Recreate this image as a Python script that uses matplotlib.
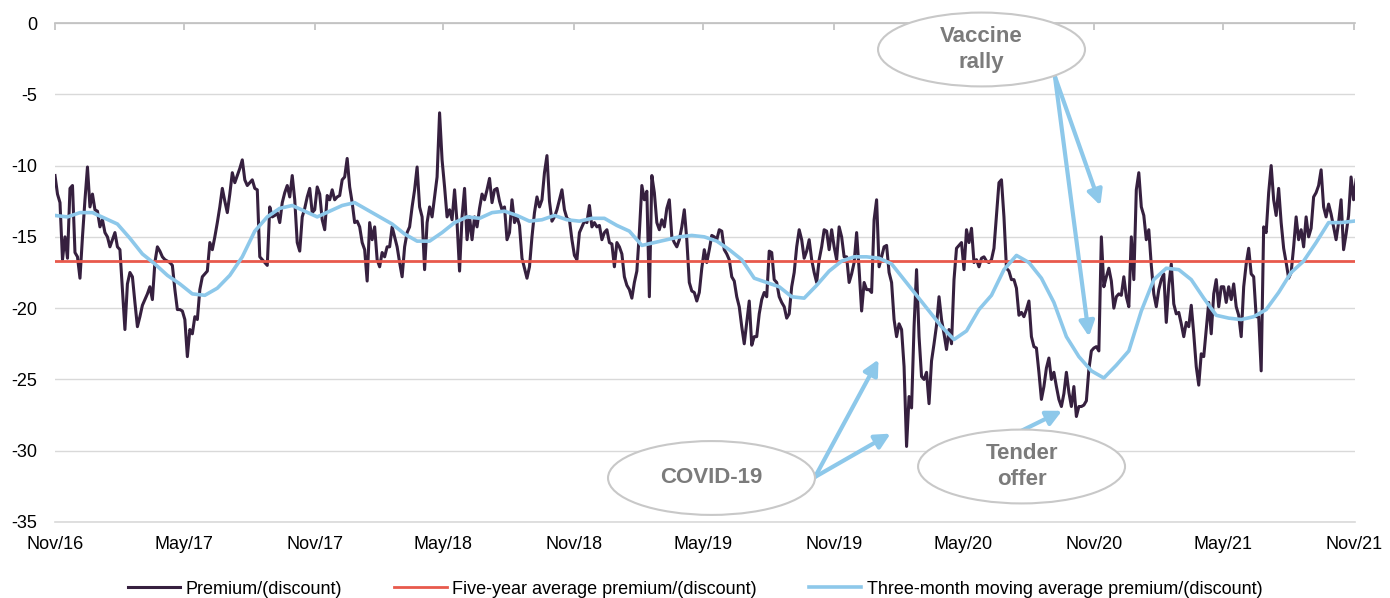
import numpy as np
import pandas as pd
import matplotlib
matplotlib.use("Agg")
import matplotlib.pyplot as plt
import matplotlib.dates as mdates
from matplotlib.patches import Ellipse

plt.rcParams['font.family'] = ['Liberation Sans', 'DejaVu Sans']
plt.rcParams['axes.unicode_minus'] = False

# premium/(discount), one reading roughly every 3.5 days from Nov/16
start = pd.Timestamp("2016-11-01")
end = pd.Timestamp("2021-11-01")

premium = [
    -10.7, -12.0, -12.6, -16.6, -15.0, -16.5, -11.6, -11.4, -16.1, -16.4,
    -17.9, -15.0, -12.4, -10.1, -12.9, -12.0, -13.1, -13.2, -14.3, -13.8,
    -14.7, -15.0, -15.7, -15.2, -14.7, -15.7, -15.9, -18.7, -21.5, -18.3,
    -17.5, -17.8, -19.6, -21.3, -20.6, -19.8, -19.4, -19.0, -18.5, -19.4,
    -16.8, -15.7, -16.0, -16.4, -16.6, -16.7, -16.8, -17.0, -18.7, -20.1,
    -20.1, -20.2, -20.8, -23.4, -21.5, -21.8, -20.6, -20.8, -18.7, -17.8,
    -17.6, -17.4, -15.4, -15.9, -15.0, -14.0, -12.9, -11.6, -12.5, -13.3,
    -12.0, -10.5, -11.2, -10.7, -10.2, -9.6, -11.0, -11.4, -11.2, -11.0,
    -11.6, -11.7, -16.4, -16.6, -16.8, -17.0, -12.9, -13.6, -13.5, -13.3,
    -14.0, -12.6, -11.9, -11.4, -12.2, -10.7, -12.4, -15.4, -16.0, -13.6,
    -13.0, -12.2, -11.6, -13.3, -13.1, -11.5, -12.0,
    # 2018
    -13.8, -14.5, -12.1, -12.4, -11.7, -12.4, -12.2, -12.1, -11.0, -10.8,
    -9.5, -11.5, -12.6, -14.0, -13.9, -14.3, -15.4, -15.9, -18.1, -14.0,
    -15.2, -14.3, -16.6, -17.1, -16.1, -16.4, -15.7, -15.7, -14.3, -15.0,
    -15.7, -16.8, -17.8, -15.7, -14.7, -14.3, -12.9, -11.7, -10.1, -12.9,
    -13.6, -17.3, -14.0, -12.9, -13.6, -12.2, -10.8, -6.3, -9.6, -11.5,
    -13.6, -13.1, -13.8, -11.7, -14.0, -17.4, -13.6, -11.6, -15.2, -13.6,
    -15.2, -13.6, -14.3, -13.0, -12.0, -12.4, -11.7, -10.9, -12.6, -11.7,
    -11.6, -12.5, -13.1, -12.9, -15.2, -14.7, -12.4, -14.0, -13.6, -14.2,
    -16.5, -17.2, -17.9, -17.1, -15.0, -13.3, -12.2, -12.9, -12.4, -10.5,
    -9.3, -12.5, -13.9, -13.6, -13.1, -12.4, -11.7, -13.1, -13.7, -13.8,
    -15.2, -16.3, -16.6, -14.7,
    # 2019
    -14.3, -13.9, -14.0, -12.8, -14.3, -14.0, -14.3, -14.2, -15.2, -14.7,
    -14.5, -15.4, -15.5, -17.1, -15.4, -15.7, -16.2, -17.8, -18.4, -18.7,
    -19.3, -18.2, -17.4, -14.7, -11.4, -12.4, -11.8, -19.2, -10.7, -11.9,
    -14.0, -14.5, -13.8, -14.3, -13.0, -12.4, -15.0, -15.4, -15.7, -15.2,
    -14.3, -13.1, -15.2, -18.2, -18.8, -18.9, -19.5, -18.9, -17.2, -15.9,
    -16.8, -15.9, -14.9, -15.0, -15.2, -14.5, -14.6, -15.9, -16.2, -16.6,
    -17.8, -18.1, -19.2, -19.9, -21.3, -22.5, -21.0, -19.5, -22.6, -22.0,
    -22.0, -20.4, -19.4, -18.9, -19.2, -16.0, -16.1, -18.0, -18.2, -19.2,
    -19.6, -19.9, -20.7, -20.4, -18.5, -17.5, -15.7, -14.5, -15.2, -16.5,
    -16.0, -15.2, -16.6, -17.5, -18.2, -16.6, -15.7, -14.5, -14.6, -15.9,
    -14.5, -15.7, -16.6, -14.3,
    # 2020
    -15.0, -16.4, -16.4, -18.2, -17.6, -16.8, -14.7, -17.3, -20.2, -18.2,
    -18.7, -18.7, -18.9, -13.8, -12.4, -17.1, -16.4, -15.7, -15.6, -17.5,
    -18.2, -20.8, -22.0, -21.1, -21.5, -24.1, -29.7, -26.2, -27.0, -21.3,
    -17.3, -22.0, -24.8, -25.0, -24.5, -26.7, -23.7, -22.5, -21.2, -19.2,
    -20.8, -21.8, -22.9, -21.5, -22.5, -18.0, -15.8, -15.6, -15.4, -17.3,
    -14.5, -15.4, -14.4, -16.8, -16.6, -17.1, -16.5, -16.4, -16.7, -16.8,
    -16.6, -15.8, -13.5, -11.2, -11.0, -13.6, -17.2, -17.4, -18.0, -18.0,
    -18.6, -20.5, -20.3, -20.6, -20.1, -19.5, -22.0, -22.7, -22.8, -24.5,
    -26.4, -25.5, -24.2, -23.5, -25.0, -24.5, -25.5, -26.4, -26.9, -26.0,
    -24.5, -25.9, -26.9, -25.5, -27.6, -26.9, -26.9, -26.8, -26.5, -24.3,
    -23.0, -22.8, -22.7, -23.0,
    # 2021
    -15.0, -18.5, -17.8, -17.2, -18.1, -20.0, -19.2, -19.0, -19.1, -17.8,
    -19.2, -19.9, -15.0, -18.0, -11.7, -10.5, -12.9, -13.5, -15.2, -14.5,
    -17.0, -19.0, -19.9, -18.7, -18.0, -17.6, -21.0, -18.4, -16.9, -19.7,
    -20.4, -20.3, -21.1, -22.0, -21.0, -21.3, -19.8, -21.8, -24.1, -25.4,
    -23.2, -23.4, -21.5, -19.6, -21.8, -19.0, -18.0, -19.9, -18.5, -18.5,
    -19.6, -18.5, -19.4, -18.3, -19.9, -20.5, -22.0, -18.5, -16.9, -15.8,
    -17.6, -17.8, -20.6, -20.6, -24.4, -14.3, -14.7, -11.9, -10.0, -12.4,
    -13.5, -11.6, -14.0, -15.8, -16.8, -17.9, -17.5, -15.7, -13.6, -15.2,
    -14.5, -15.7, -13.6, -15.0, -14.4, -12.2, -11.9, -11.4, -10.3, -12.9,
    -13.6, -12.7, -13.4, -14.3, -15.2, -14.0, -12.4, -15.9, -14.8, -13.5,
    -10.8, -12.4, -11.0,
]

# three-month moving average, read every 5th premium reading
ma3m = [
    -13.5, -13.6, -13.3, -13.3, -13.7, -14.1, -15.1, -16.2, -16.9, -17.7,
    -18.3, -19.0, -19.1, -18.6, -17.7, -16.4, -14.6, -13.6, -13.0, -12.8,
    -13.2, -13.6, -13.2, -12.8, -12.6, -13.1, -13.6, -14.1, -14.8, -15.3,
    -15.3, -14.7, -14.0, -13.6, -13.7, -13.3, -13.2, -13.5, -13.9, -13.8,
    -13.5, -13.8, -13.9, -13.7, -13.7, -14.2, -14.6, -15.6, -15.4, -15.2,
    -15.0, -14.9, -15.0, -15.3, -15.9, -16.6, -17.9, -18.2, -18.5, -19.2,
    -19.3, -18.4, -17.4, -16.7, -16.4, -16.4, -16.5, -16.9, -18.0, -19.1,
    -20.2, -21.3, -22.2, -21.6, -20.1, -19.1, -17.3, -16.3, -16.8, -17.9,
    -19.6, -22.0, -23.4, -24.4, -24.9, -24.0, -23.0, -20.2, -18.0, -17.2,
    -17.3, -18.0, -19.3, -20.5, -20.7, -20.8, -20.6, -20.1, -18.9, -17.5,
    -16.7, -15.4, -14.0, -14.0, -13.9,
]

five_year_avg = -16.7

# annotation callouts: label, ellipse centre (axes fraction), arrow tail, arrow heads (date, value)
callouts = [
    ("Vaccine\nrally", (0.7127, 0.9469), (0.7692, 0.8924),
     [("2020-11-10", -12.8), ("2020-10-25", -22.0)]),
    ("COVID-19", (0.5050, 0.0882), (0.5846, 0.0902),
     [("2020-01-03", -23.6), ("2020-01-20", -28.8)]),
    ("Tender\noffer", (0.7435, 0.1112), (0.7436, 0.1830),
     [("2020-09-17", -27.2)]),
]

dark = '#36203f'
red = '#e8594c'
blue = '#8dc8ea'

step = (end - start) / 520
dates = [start + step * i for i in range(len(premium))]
ma_dates = dates[::5]

fig = plt.figure(figsize=(13.9, 5.98), dpi=100)
ax = fig.add_axes([55 / 1390, 1 - 522 / 598, 1300 / 1390, 499 / 598])

ax.plot(dates, premium, color=dark, lw=2.2, zorder=3, label='Premium/(discount)')
ax.plot([start, dates[-1]], [five_year_avg, five_year_avg], color=red, lw=2.0, zorder=4,
        label='Five-year average premium/(discount)')
ax.plot(ma_dates, ma3m, color=blue, lw=2.6, zorder=5,
        label='Three-month moving average premium/(discount)')

ax.set_ylim(-35, 0)
ax.set_xlim(start, end + pd.Timedelta(days=2))
ax.set_yticks(range(-35, 1, 5))
ax.yaxis.grid(True, color='#d9d9d9', lw=1)
ax.axhline(-35, color='#d9d9d9', lw=1.2, zorder=1, clip_on=False)
ax.set_axisbelow(True)
for s in ['left', 'right', 'bottom']:
    ax.spines[s].set_visible(False)
ax.spines['top'].set_color('#bfbfbf')
ax.spines['top'].set_linewidth(1.2)

ax.xaxis.set_major_locator(mdates.MonthLocator(bymonth=[5, 11]))
ax.xaxis.set_major_formatter(mdates.DateFormatter('%b/%y'))
ax.tick_params(axis='x', bottom=False, top=True, direction='in', length=5, width=1.2,
               color='#bfbfbf', labelbottom=True, labeltop=False, pad=10, labelsize=13)
ax.tick_params(axis='y', length=0, pad=13, labelsize=13)

for label, centre, tail, heads in callouts:
    for d, v in heads:
        ax.annotate("", xy=(mdates.date2num(pd.Timestamp(d)), v), xycoords='data',
                    xytext=tail, textcoords='axes fraction',
                    arrowprops=dict(arrowstyle='-|>,head_length=0.6,head_width=0.3',
                                    color=blue, lw=3, mutation_scale=15,
                                    shrinkA=0, shrinkB=0),
                    zorder=6, annotation_clip=False)
    ax.add_patch(Ellipse(centre, 0.1592, 0.148, transform=ax.transAxes,
                         facecolor='white', edgecolor='#c8c8c8', lw=1.5,
                         zorder=7, clip_on=False))
    ax.text(centre[0], centre[1], label, transform=ax.transAxes, ha='center', va='center',
            fontsize=16, fontweight='bold', color='#7b7b7b', linespacing=1.3, zorder=8)

fig.legend(loc='center', bbox_to_anchor=(0.5, 1 - 589 / 598), ncol=3, frameon=False,
           fontsize=13, handlelength=2.9, handletextpad=0.3, columnspacing=2.9)

fig.savefig('out.png', dpi=100)
